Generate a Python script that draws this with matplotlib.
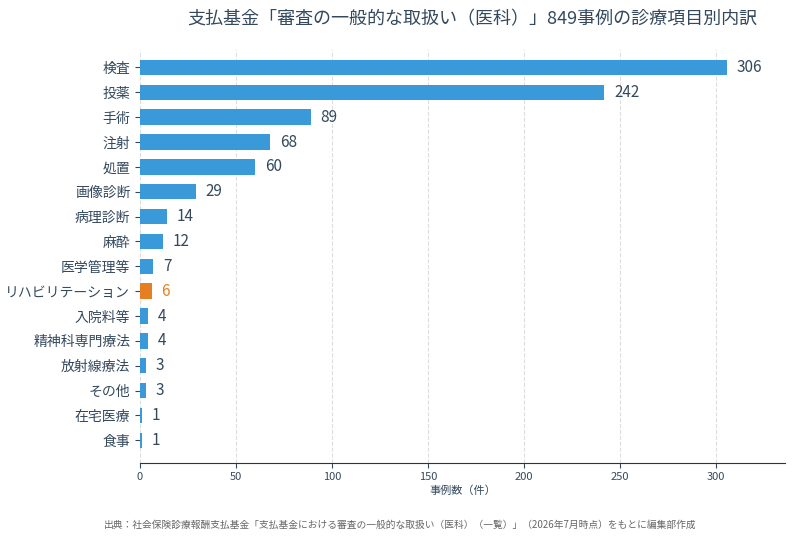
import matplotlib
matplotlib.use("Agg")
import matplotlib.pyplot as plt

plt.rcParams['font.family'] = ['Noto Sans CJK JP', 'DejaVu Sans']

categories = ["検査","投薬","手術","注射","処置","画像診断","病理診断","麻酔","医学管理等",
              "リハビリテーション","入院料等","精神科専門療法","放射線療法","その他","在宅医療","食事"]
values = [306,242,89,68,60,29,14,12,7,6,4,4,3,3,1,1]
highlight = "リハビリテーション"

blue = "#3a9ad9"; orange = "#e67e22"; txt = "#34495e"
colors = [orange if c == highlight else blue for c in categories]

fig = plt.figure(figsize=(8, 5.38), dpi=100)
ax = fig.add_axes([0.175, 0.14, 0.806, 0.767])
y = list(range(len(categories)))
ax.barh(y, values, height=0.62, color=colors, zorder=3)
ax.set_yticks(y)
ax.set_yticklabels(categories, fontsize=10, color=txt)
for lab, c in zip(ax.get_yticklabels(), categories):
    if c == highlight:
        lab.set_color(orange)
ax.invert_yaxis()
ax.set_ylim(len(categories) - 0.1, -0.7)
ax.set_xlim(0, 336)
ax.set_xticks([0,50,100,150,200,250,300])
ax.tick_params(axis='x', labelsize=8, colors=txt)
ax.tick_params(axis='y', colors=txt)
for i, v in enumerate(values):
    ax.text(v + 5, i, str(v), va='center', ha='left', fontsize=11,
            color=orange if categories[i] == highlight else txt)
ax.grid(axis='x', linestyle='--', color='#dddddd', linewidth=0.8, zorder=0)
for s in ['top', 'right']:
    ax.spines[s].set_visible(False)
ax.spines['left'].set_visible(False)
ax.spines['bottom'].set_color('#333333')
ax.set_xlabel("事例数（件）", fontsize=8, color=txt, labelpad=2)
fig.text(0.59, 0.965, "支払基金「審査の一般的な取扱い（医科）」849事例の診療項目別内訳",
         ha='center', va='center', fontsize=13, color=txt)
fig.text(0.5, 0.025, "出典：社会保険診療報酬支払基金「支払基金における審査の一般的な取扱い（医科）（一覧）」（2026年7月時点）をもとに編集部作成",
         ha='center', va='center', fontsize=7, color='#666666')
fig.savefig("out.png", dpi=100)
